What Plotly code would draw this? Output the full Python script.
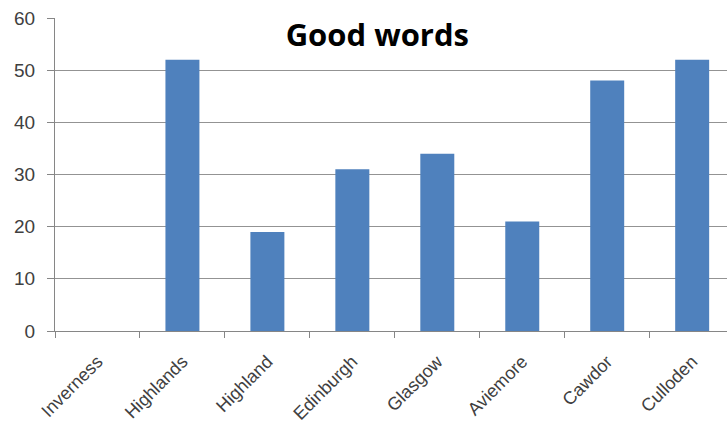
import plotly.graph_objects as go

categories = ["Inverness", "Highlands", "Highland", "Edinburgh", "Glasgow", "Aviemore", "Cawdor", "Culloden"]
values = [0, 52, 19, 31, 34, 21, 48, 52]
title_text = "Good words"

fig = go.Figure(go.Bar(x=categories, y=values, marker=dict(color="#4F81BD", line=dict(width=0))))

fig.update_layout(
    width=727, height=424,
    margin=dict(l=55, r=0, t=18, b=93),
    plot_bgcolor="white", paper_bgcolor="white",
    bargap=0.6,
    showlegend=False,
    font=dict(family="Liberation Sans, Arial, sans-serif", size=15, color="#404040"),
    title=dict(text="<b>" + title_text + "</b>", x=0.519, xanchor="center", y=0.917, yanchor="middle",
               font=dict(family="Open Sans, sans-serif", size=31, color="black")),
)
fig.update_xaxes(
    range=[-0.5, 7.41], tickangle=-45, showgrid=False,
    showline=True, linecolor="#868686", linewidth=1,
    ticks="outside", tickson="boundaries", ticklen=6, tickcolor="#868686",
    tickfont=dict(size=18), ticklabelstandoff=12,
)
fig.update_yaxes(
    range=[0, 60], dtick=10, showgrid=True, gridcolor="#939393", gridwidth=1,
    showline=True, linecolor="#868686", linewidth=1,
    ticks="outside", ticklen=7, tickcolor="#868686", zeroline=False,
    tickfont=dict(size=19), ticklabelstandoff=8,
)

fig.write_html("out.html")
